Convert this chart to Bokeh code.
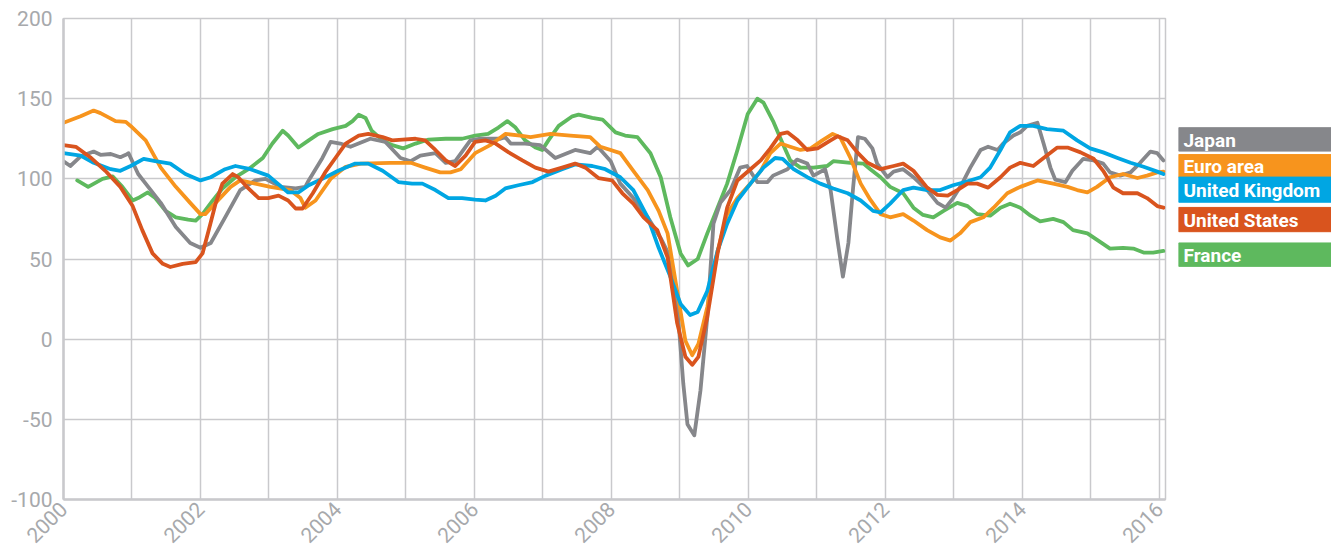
from math import pi
from bokeh.plotting import figure
from bokeh.layouts import row
from bokeh.models import FixedTicker, Range1d, ColumnDataSource
from bokeh.embed import file_html
from bokeh.resources import INLINE
from bokeh.core.properties import value

# ---------------- data (decimal years, index values) ----------------
jp_t = [2000.00, 2000.10, 2000.25, 2000.44, 2000.54, 2000.69, 2000.83, 2000.91, 2000.95, 2001.09,
        2001.20, 2001.42, 2001.64, 2001.85, 2002.00, 2002.15, 2002.36, 2002.58, 2002.80, 2002.95,
        2003.17, 2003.39, 2003.53, 2003.58, 2003.78, 2003.90, 2004.04, 2004.19, 2004.48, 2004.70,
        2004.92, 2005.07, 2005.21, 2005.43, 2005.58, 2005.72, 2005.94, 2006.09, 2006.38, 2006.45,
        2006.53, 2006.74, 2006.96, 2007.18, 2007.47, 2007.69, 2007.80, 2007.99, 2008.13, 2008.32,
        2008.53, 2008.72, 2008.86, 2008.96, 2009.05, 2009.11, 2009.21, 2009.30, 2009.40, 2009.49,
        2009.59, 2009.74, 2009.88, 2009.98, 2010.13, 2010.28, 2010.36, 2010.57, 2010.71, 2010.86,
        2010.95, 2011.12, 2011.20, 2011.30, 2011.38, 2011.46, 2011.53, 2011.60, 2011.70, 2011.81,
        2011.88, 2012.03, 2012.12, 2012.26, 2012.41, 2012.61, 2012.76, 2012.88, 2012.99, 2013.12,
        2013.24, 2013.39, 2013.50, 2013.64, 2013.72, 2013.87, 2013.97, 2014.07, 2014.22, 2014.31,
        2014.41, 2014.48, 2014.63, 2014.73, 2014.89, 2015.04, 2015.18, 2015.28, 2015.43, 2015.58,
        2015.72, 2015.87, 2015.97, 2016.06]
jp_v = [111, 108, 114, 117, 115, 115.5, 113.5, 115, 116, 103,
        97, 85, 70, 60, 57, 60, 76, 93, 99, 100,
        95, 94, 95, 99, 113, 123, 122, 120, 125, 123,
        113, 111, 114.5, 116, 110, 111, 124, 125, 125, 126,
        122, 122, 121, 113, 118, 116, 120, 111, 97, 88,
        76, 63, 51, 22, -28, -53, -60, -32, 14, 72,
        85, 93, 107, 108, 98, 98, 102, 106, 112, 109.5,
        102, 106, 93, 62, 39, 60, 95, 126, 125, 119,
        109.5, 101, 104.5, 106, 101, 93, 85, 82, 88, 97,
        107, 118, 120, 118, 122, 127, 129, 133, 135, 122,
        107, 99.5, 98, 105, 112.5, 111.5, 109.5, 104, 102, 104,
        110, 117, 116, 111.5]

ea_t = [2000.00, 2000.25, 2000.44, 2000.54, 2000.76, 2000.91, 2000.98, 2001.20, 2001.42, 2001.64,
        2001.85, 2002.00, 2002.07, 2002.22, 2002.44, 2002.58, 2002.80, 2003.02, 2003.31, 2003.46,
        2003.53, 2003.68, 2003.90, 2004.12, 2004.34, 2004.77, 2005.07, 2005.28, 2005.50, 2005.65,
        2005.80, 2006.01, 2006.23, 2006.45, 2006.67, 2006.82, 2007.11, 2007.40, 2007.69, 2007.84,
        2008.13, 2008.32, 2008.53, 2008.69, 2008.82, 2008.96, 2009.08, 2009.18, 2009.27, 2009.40,
        2009.55, 2009.69, 2009.84, 2010.03, 2010.18, 2010.32, 2010.47, 2010.61, 2010.76, 2010.91,
        2011.08, 2011.23, 2011.34, 2011.49, 2011.64, 2011.78, 2011.93, 2012.07, 2012.26, 2012.41,
        2012.61, 2012.80, 2012.95, 2013.09, 2013.24, 2013.43, 2013.58, 2013.78, 2013.97, 2014.22,
        2014.45, 2014.66, 2014.80, 2014.95, 2015.09, 2015.28, 2015.47, 2015.68, 2015.82, 2015.97,
        2016.06]
ea_v = [135, 139, 142.6, 141, 136, 135.5, 133, 124, 107, 95,
        85, 78, 78, 85, 95, 99, 97, 95, 93, 88,
        82, 86.5, 100, 107.5, 109.5, 110, 110, 107, 104, 104,
        106, 116, 121, 128, 127, 126, 128, 127, 126, 120,
        116, 105, 93, 80, 66, 30, -1, -10, -3, 20,
        55, 78, 88, 97, 105, 116, 122, 120, 118, 119,
        124, 128, 126, 113, 97, 87, 78, 76, 78, 74,
        68, 63.5, 61.5, 66, 73, 76, 82, 91, 95, 99,
        97, 95, 93, 91.5, 95, 101, 103, 100.5, 102, 104,
        104.5]

uk_t = [2000.00, 2000.25, 2000.44, 2000.69, 2000.83, 2000.98, 2001.17, 2001.34, 2001.56, 2001.78,
        2002.00, 2002.15, 2002.36, 2002.51, 2002.73, 2002.99, 2003.28, 2003.43, 2003.58, 2003.78,
        2004.01, 2004.26, 2004.45, 2004.66, 2004.89, 2005.09, 2005.24, 2005.43, 2005.62, 2005.82,
        2006.01, 2006.16, 2006.31, 2006.45, 2006.64, 2006.85, 2007.04, 2007.28, 2007.47, 2007.72,
        2007.91, 2008.13, 2008.32, 2008.53, 2008.69, 2008.86, 2009.01, 2009.15, 2009.26, 2009.40,
        2009.55, 2009.69, 2009.84, 2010.03, 2010.22, 2010.39, 2010.50, 2010.66, 2010.86, 2011.05,
        2011.24, 2011.45, 2011.64, 2011.82, 2011.93, 2012.07, 2012.26, 2012.41, 2012.61, 2012.80,
        2012.99, 2013.20, 2013.39, 2013.53, 2013.68, 2013.82, 2013.97, 2014.16, 2014.36, 2014.60,
        2014.80, 2014.99, 2015.18, 2015.39, 2015.58, 2015.77, 2015.97, 2016.06]
uk_v = [116, 114.5, 110, 106, 105, 108, 112.5, 111, 109.5, 103,
        99, 101, 106, 108, 106, 102, 91.5, 91.5, 96, 100,
        105, 109.5, 109.5, 105, 98, 97, 97, 93, 88, 88,
        87, 86.5, 89.5, 94, 96, 98, 102, 106, 109, 108,
        106, 101, 93, 76, 57, 39, 22, 15, 17, 30,
        55, 72, 86.5, 97, 107, 113, 112.5, 106, 101, 97,
        94, 91, 86.5, 80, 79, 84.5, 93, 94.5, 93, 93,
        96, 98.5, 101, 107, 118, 129, 133, 133, 131, 130,
        124, 119, 116.5, 113, 110, 107.5, 104.5, 103]

us_t = [2000.00, 2000.18, 2000.39, 2000.61, 2000.83, 2001.01, 2001.15, 2001.30, 2001.45, 2001.56,
        2001.74, 2001.93, 2002.03, 2002.12, 2002.22, 2002.32, 2002.47, 2002.55, 2002.70, 2002.85,
        2002.99, 2003.14, 2003.28, 2003.39, 2003.49, 2003.64, 2003.82, 2003.97, 2004.12, 2004.31,
        2004.45, 2004.66, 2004.80, 2004.95, 2005.14, 2005.28, 2005.43, 2005.58, 2005.72, 2005.87,
        2006.01, 2006.16, 2006.31, 2006.50, 2006.70, 2006.89, 2007.08, 2007.28, 2007.47, 2007.62,
        2007.81, 2008.01, 2008.16, 2008.32, 2008.47, 2008.67, 2008.82, 2008.96, 2009.08, 2009.18,
        2009.27, 2009.40, 2009.55, 2009.69, 2009.84, 2010.03, 2010.18, 2010.32, 2010.47, 2010.57,
        2010.72, 2010.86, 2011.01, 2011.20, 2011.30, 2011.45, 2011.59, 2011.74, 2011.93, 2012.12,
        2012.26, 2012.41, 2012.61, 2012.76, 2012.91, 2013.05, 2013.20, 2013.34, 2013.50, 2013.68,
        2013.82, 2013.97, 2014.16, 2014.31, 2014.51, 2014.66, 2014.85, 2015.04, 2015.18, 2015.33,
        2015.47, 2015.68, 2015.82, 2015.97, 2016.06]
us_v = [121, 120, 113.5, 105, 95, 83, 68, 53.5, 47, 45,
        47, 48, 53.5, 68, 84.5, 97, 103, 101, 94, 88,
        88, 89.5, 86.5, 81.5, 81.5, 91, 104, 113, 122, 127,
        128, 126, 124, 124.5, 125, 124, 118, 111.5, 108, 114.5,
        123, 124, 122, 116.5, 111.5, 107, 104.5, 107, 109.5, 107,
        100.5, 99, 91, 84.5, 76, 68, 51, 10, -11, -16,
        -11, 14, 53.5, 82, 99, 106, 111.5, 119, 128, 129,
        124, 118, 119, 124, 126.5, 124, 116.5, 110, 106, 108,
        109.5, 105, 94.5, 90, 89.5, 93, 97, 97, 94.5, 101,
        107, 110, 108, 113, 119.5, 119.5, 116.5, 112.5, 105, 94.5,
        91, 91, 88, 83, 82]

fr_t = [2000.20, 2000.36, 2000.57, 2000.72, 2000.86, 2001.01, 2001.09, 2001.23, 2001.34, 2001.49,
        2001.64, 2001.82, 2001.93, 2002.03, 2002.18, 2002.32, 2002.51, 2002.70, 2002.91, 2003.05,
        2003.20, 2003.28, 2003.43, 2003.58, 2003.72, 2003.93, 2004.12, 2004.22, 2004.31, 2004.41,
        2004.50, 2004.66, 2004.80, 2004.96, 2005.14, 2005.33, 2005.58, 2005.82, 2006.01, 2006.20,
        2006.35, 2006.48, 2006.60, 2006.74, 2006.89, 2006.99, 2007.08, 2007.23, 2007.43, 2007.52,
        2007.72, 2007.87, 2008.06, 2008.20, 2008.38, 2008.57, 2008.72, 2008.86, 2009.01, 2009.12,
        2009.26, 2009.40, 2009.55, 2009.69, 2009.84, 2009.99, 2010.13, 2010.22, 2010.36, 2010.50,
        2010.61, 2010.76, 2010.95, 2011.15, 2011.24, 2011.49, 2011.68, 2011.78, 2011.93, 2012.07,
        2012.26, 2012.41, 2012.55, 2012.70, 2012.85, 2013.05, 2013.20, 2013.34, 2013.53, 2013.68,
        2013.82, 2013.97, 2014.12, 2014.26, 2014.45, 2014.60, 2014.74, 2014.95, 2015.14, 2015.28,
        2015.47, 2015.62, 2015.77, 2015.91, 2016.06]
fr_v = [99, 95, 100, 101.5, 95, 86.5, 88, 91.5, 88, 80,
        76, 74.5, 74, 78, 86.5, 94, 101, 106, 113, 122,
        130, 127, 119.5, 124, 128, 131, 133, 136, 140, 138,
        130, 124, 121, 119, 122, 124.5, 125, 125, 127, 128,
        132, 136, 132, 124, 119.5, 118, 124, 133, 139, 140,
        138, 137, 129, 127, 126, 116, 101, 76, 53.5, 46,
        50, 66, 82, 97, 118, 140.5, 150, 147.5, 136, 122,
        111.5, 107, 107, 108, 111, 110, 109.5, 106, 101, 95,
        91, 82, 77.5, 76, 80, 85, 83, 78, 77, 82,
        84.5, 82, 77, 73.5, 75, 73, 68, 66, 60.5, 56.5,
        57, 56.5, 54, 54, 55]

series_names = ["Japan", "Euro area", "United Kingdom", "United States", "France"]
series_colors = ["#86878b", "#f7941d", "#00a6e3", "#d9541e", "#5eb95e"]
series_t = [jp_t, ea_t, uk_t, us_t, fr_t]
series_v = [jp_v, ea_v, uk_v, us_v, fr_v]
draw_order = [4, 0, 1, 2, 3]  # France underneath, US on top

x_grid_years = list(range(2000, 2017))
x_label_years = list(range(2000, 2017, 2))
y_ticks = [-100, -50, 0, 50, 100, 150, 200]
y_tick_labels = {t: str(t) for t in y_ticks}  # plain hyphen-minus as in the original

# ---------------- styling ----------------
GRID = "#c9c9cc"
LABEL = "#a7a9ac"
W, H = 1178, 555

p = figure(width=W, height=H, x_range=Range1d(2000, 2016.09), y_range=Range1d(-100, 200),
           output_backend="svg", toolbar_location=None,
           min_border_left=63, min_border_right=13, min_border_top=18, min_border_bottom=56)

for i in draw_order:
    src = ColumnDataSource(dict(t=series_t[i], v=series_v[i]))
    p.line("t", "v", source=src, line_color=series_colors[i], line_width=3.8,
           line_join="round", line_cap="round")

p.xgrid.ticker = FixedTicker(ticks=x_grid_years)
p.ygrid.ticker = FixedTicker(ticks=y_ticks)
p.xaxis.ticker = FixedTicker(ticks=x_label_years)
p.yaxis.ticker = FixedTicker(ticks=y_ticks)
p.yaxis.major_label_overrides = y_tick_labels
for g in (p.xgrid, p.ygrid):
    g.grid_line_color = GRID
    g.grid_line_width = 1.5
p.outline_line_color = GRID
p.outline_line_width = 1.5

for ax in (p.xaxis, p.yaxis):
    ax.axis_line_color = GRID
    ax.axis_line_width = 2.5
    ax.major_tick_line_color = None
    ax.minor_tick_line_color = None
    ax.major_tick_out = 0
    ax.major_tick_in = 0
    ax.major_label_text_color = LABEL
    ax.major_label_text_font = "Roboto"
    ax.major_label_text_font_size = "21px"
p.yaxis.major_label_standoff = 11
p.xaxis.major_label_standoff = 6
p.xaxis.major_label_orientation = pi / 4

# ---------------- legend panel ----------------
LW = 1331 - W
legend_boxes = [(126, 153), (157, 183), (183, 212), (218, 246), (259, 286)]  # canvas px (top, bottom)

lg = figure(width=LW, height=H, x_range=Range1d(0, LW), y_range=Range1d(H, 0),
            output_backend="svg", toolbar_location=None, min_border=0,
            x_axis_type=None, y_axis_type=None)
lg.grid.visible = False
lg.outline_line_color = None
lsrc = ColumnDataSource(dict(
    top=[b[0] for b in legend_boxes], bottom=[b[1] for b in legend_boxes],
    mid=[(b[0] + b[1]) / 2 + 1 for b in legend_boxes],
    left=[0] * 5, right=[LW] * 5, tx=[5] * 5,
    color=series_colors, name=series_names))
lg.quad(left="left", right="right", top="top", bottom="bottom", color="color", source=lsrc)
lg.text(x="tx", y="mid", text="name", source=lsrc, text_color="white",
        text_font=value("Roboto"), text_font_style="bold",
        text_font_size="19px", text_baseline="middle", text_align="left")

layout = row(p, lg, spacing=0)
open("out.html", "w").write(file_html(layout, INLINE))
